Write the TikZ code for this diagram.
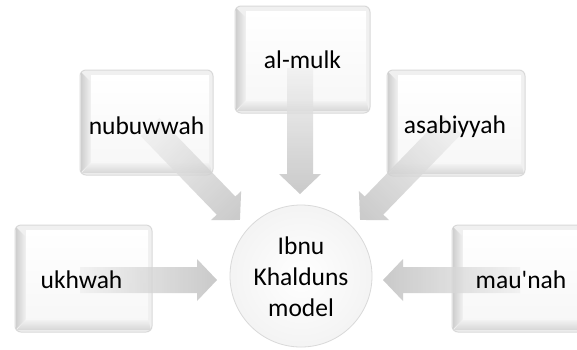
\documentclass[tikz,border=0pt]{standalone}
\usepackage{fontspec}
\setmainfont{Carlito}[Ligatures=TeXOff]
\usetikzlibrary{calc}
\tikzset{
  lbl/.style={font=\fontsize{25.5}{31}\selectfont, text=black, inner sep=0pt, align=center},
  boxframe/.style={draw=gray!30, fill=gray!12, rounded corners=6pt, line width=1pt},
  arrowbody/.style={left color=gray!12, right color=gray!52, opacity=0.8},
  hub/.style={circle, minimum size=142pt, inner sep=0pt, draw=gray!30, line width=0.8pt, inner color=white, outer color=gray!9}
}
\newcommand\bevbox[5]{%
  \path[boxframe] (#2,#3) rectangle (#4,#5);
  \shade[left color=gray!38, right color=gray!10] (#2+1,#3+2) -- (#2+11,#3+12) -- (#2+11,#5-13) -- (#2+1,#5-3) -- cycle;
  \shade[top color=gray!8, bottom color=gray!32] (#2+11,#5-13) -- (#4-4,#5-13) -- (#4-1,#5-2) -- (#2+2,#5-2) -- cycle;
  \shade[top color=white, bottom color=gray!6] (#2+11,#3+5) rectangle (#4-4,#5-13);
  \node[inner sep=0pt, minimum width={#4-#2}, minimum height={#5-#3}] (#1) at ({(#2+#4)/2},{(#3+#5)/2}) {};
}
\newcommand\blockarrow[2]{%
  \path let \p1=(#1), \p2=(#2) in \pgfextra{%
    \pgfmathsetmacro\baang{atan2(\y2-\y1,\x2-\x1)}%
    \pgfmathsetmacro\balen{veclen(\x2-\x1,\y2-\y1)}%
    \xdef\baang{\baang}\xdef\balen{\balen}\xdef\bax{\x1}\xdef\bay{\y1}};
  \begin{scope}[transform canvas={shift={(\bax,\bay)}, rotate=\baang}]
    \shade[arrowbody] (0,-13) -- ({\balen-20},-13) -- ({\balen-20},-21) -- (\balen,0) -- ({\balen-20},21) -- ({\balen-20},13) -- (0,13) -- cycle;
  \end{scope}
}
\begin{document}
\begin{tikzpicture}[x=1pt,y=-1pt]
\useasboundingbox (0,0) rectangle (577,349);
\clip (0,0) rectangle (577,349);
\fill[white] (0,0) rectangle (577,349);
% boxes
\bevbox{nb}{80}{70}{213}{175}
\bevbox{am}{235}{6}{370}{113}
\bevbox{as}{387}{70}{525}{176}
\bevbox{uk}{15}{225}{152}{332}
\bevbox{mn}{452}{225}{590}{332}
% hub
\node[hub] (c) at (301,276) {};
% arrow ends
\coordinate (s1) at (150,127);
\coordinate (t1) at (240,220);
\coordinate (s2) at (300,68);
\coordinate (t2) at (300,194);
\coordinate (s3) at (452,125);
\coordinate (t3) at (360,220);
\coordinate (s4) at (80,280);
\coordinate (t4) at (217,280);
\coordinate (s5) at (520,280);
\coordinate (t5) at (383,280);
\blockarrow{s1}{t1}
\blockarrow{s2}{t2}
\blockarrow{s3}{t3}
\blockarrow{s4}{t4}
\blockarrow{s5}{t5}
% labels
\node[lbl, anchor=base] at ($(nb.center)+(0,11.5)$) {nubuwwah};
\node[lbl, anchor=base] at ($(am.center)+(0,8.5)$) {al-mulk};
\node[lbl, anchor=base] at ($(as.center)+(-1,10)$) {asabiyyah};
\node[lbl, anchor=base] at ($(uk.center)+(-2,9.5)$) {ukhwah};
\node[lbl, anchor=base] at ($(mn.center)+(0,9.5)$) {mau'nah};
\node[lbl] at ($(c.center)+(0,1)$) {Ibnu\\Khalduns\\model};
\end{tikzpicture}
\end{document}
